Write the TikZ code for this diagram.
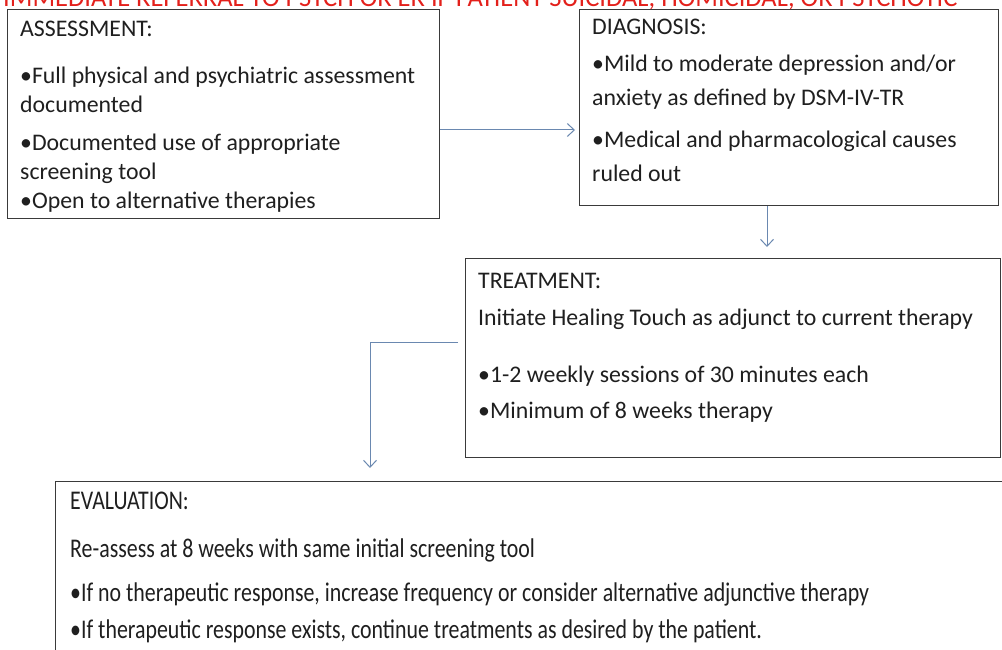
\documentclass[tikz,border=0pt]{standalone}
\usepackage{fontspec}
\setmainfont{Carlito}
\newfontfamily\evalfont{Carlito}[FakeStretch=0.81]
\usetikzlibrary{arrows.meta}
\definecolor{boxline}{HTML}{3A3A3A}
\definecolor{connc}{HTML}{6A88B0}
\definecolor{alertred}{HTML}{E3201B}
\begin{document}
\begin{tikzpicture}[x=1pt,y=-1pt,
  box/.style={draw=boxline,line width=1.3pt,inner sep=0pt,anchor=north west},
  txt/.style={anchor=base west,inner sep=0pt,font=\fontsize{23.8}{28}\selectfont,text=black!88},
  evtxt/.style={anchor=base west,inner sep=0pt,font=\evalfont\fontsize{27}{30}\selectfont,text=black!88},
  conn/.style={draw=connc,line width=1pt,-{Straight Barb[length=7pt,width=13pt,line width=1pt]}}
]
\useasboundingbox (0,0) rectangle (1002,650);
\clip (0,0) rectangle (1002,650);
\fill[white] (0,0) rectangle (1002,650);

% title (cut at top, as in the reference)
\node[anchor=base west,inner sep=0pt,font=\fontsize{26.5}{30}\selectfont,text=alertred] (title) at (3,7)
  {IMMEDIATE REFERRAL TO PSYCH OR ER IF PATIENT SUICIDAL, HOMICIDAL, OR PSYCHOTIC};

% boxes
\node[box,minimum width=432pt,minimum height=209pt] (assess) at (7,9) {};
\node[box,minimum width=419pt,minimum height=196pt] (diag) at (579,9) {};
\node[box,minimum width=535pt,minimum height=199pt] (treat) at (465,258) {};
\node[box,minimum width=1000pt,minimum height=220pt] (eval) at (55,481) {};

% assessment text
\node[txt] (a0) at (20,37) {ASSESSMENT:};
\node[txt] (a1) at (20,84) {•Full physical and psychiatric assessment};
\node[txt] (a2) at (20,113) {documented};
\node[txt] (a3) at (20,151) {•Documented use of appropriate};
\node[txt] (a4) at (20,180) {screening tool};
\node[txt] (a5) at (20,208) {•Open to alternative therapies};

% diagnosis text
\node[txt] (d0) at (592,35) {DIAGNOSIS:};
\node[txt] (d1) at (592,72) {•Mild to moderate depression and/or};
\node[txt] (d2) at (592,106) {anxiety as defined by DSM-IV-TR};
\node[txt] (d3) at (592,148) {•Medical and pharmacological causes};
\node[txt] (d4) at (592,182) {ruled out};

% treatment text
\node[txt] (t0) at (478,288) {TREATMENT:};
\node[txt] (t1) at (478,325) {Initiate Healing Touch as adjunct to current therapy};
\node[txt] (t2) at (478,382) {•1-2 weekly sessions of 30 minutes each};
\node[txt] (t3) at (478,418) {•Minimum of 8 weeks therapy};

% evaluation text
\node[evtxt] (e0) at (70,509) {EVALUATION:};
\node[evtxt] (e1) at (70,557) {Re-assess at 8 weeks with same initial screening tool};
\node[evtxt] (e2) at (70,601) {•If no therapeutic response, increase frequency or consider alternative adjunctive therapy};
\node[evtxt] (e3) at (70,638) {•If therapeutic response exists, continue treatments as desired by the patient.};

% connectors
\draw[conn,shorten >=4pt] (assess.east |- 0,130) -- (diag.west |- 0,130);
\draw[conn,shorten >=11pt] (diag.south -| 767,0) -- (treat.north -| 767,0);
\draw[conn,shorten <=7pt,shorten >=13pt] (treat.west |- 0,342) -| (eval.north -| 370,0);
\end{tikzpicture}
\end{document}
